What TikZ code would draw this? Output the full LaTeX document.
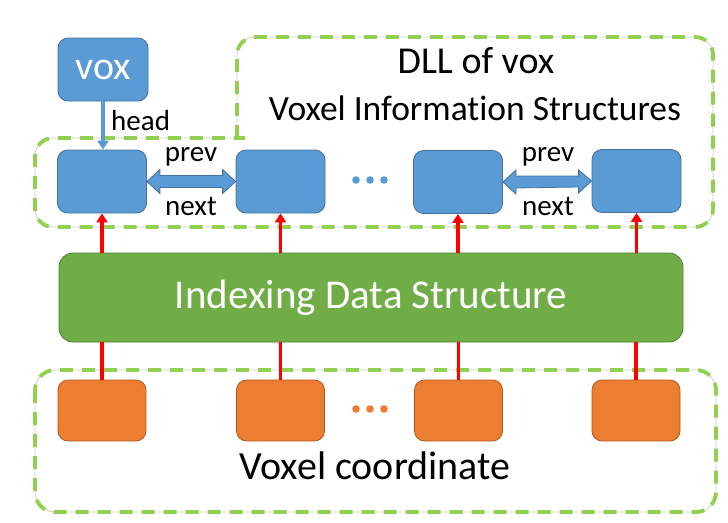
\documentclass[tikz,border=0pt]{standalone}
\usepackage{fontspec}
\setmainfont{Carlito}[Ligatures=NoCommon]
\usetikzlibrary{arrows.meta}
\definecolor{bfill}{HTML}{5B9BD5}
\definecolor{bline}{HTML}{41719C}
\definecolor{ofill}{HTML}{ED7D31}
\definecolor{oline}{HTML}{AE5A21}
\definecolor{gfill}{HTML}{70AD47}
\definecolor{gline}{HTML}{507E32}
\definecolor{fgreen}{HTML}{92D050}
\tikzset{
  blueb/.style={draw=bline, fill=bfill, line width=0.8pt, rounded corners=10, minimum width=89, minimum height=63, inner sep=0},
  orangeb/.style={draw=oline, fill=ofill, line width=0.8pt, rounded corners=10, minimum width=88, minimum height=61, inner sep=0},
  greenb/.style={draw=gline, fill=gfill, line width=0.8pt, rounded corners=14, minimum width=624, minimum height=89, inner sep=0, text=white, font=\fontsize{41}{48}\selectfont},
  frameg/.style={draw=gray!40, line width=0.8pt},
  framed/.style={draw=fgreen, line width=3.8pt, dash pattern=on 13pt off 9pt},
  redl/.style={draw=red, line width=3.6pt},
  redarr/.style={redl, -{Triangle[width=11pt,length=9pt]}},
  bluearr/.style={draw=bfill, line width=3.6pt, -{Triangle[width=11pt,length=9pt]}},
  lab/.style={font=\fontsize{29}{34}\selectfont, inner sep=0},
  dbl/.style={draw=bline, fill=bfill, line width=0.8pt},
}
\begin{document}
\begin{tikzpicture}[x=1pt,y=-1pt]
\useasboundingbox (0,0) rectangle (728,522);
% frames
\foreach \st in {frameg,framed}{
  \draw[\st, rounded corners=18] (237,138) -- (237,37) -- (713,37) -- (713,227) -- (35,227) -- (35,138) -- (245,138);
  \draw[\st, rounded corners=20] (35,370) rectangle (716,512);
}
\node (t1) at (476,61) {\fontsize{38}{44}\selectfont DLL of vox};
\node (t2) at (475,108) {\fontsize{35.5}{42}\selectfont Voxel Information Structures};
\node (t3) at (375,466) {\fontsize{40}{46}\selectfont Voxel coordinate};
% nodes
\node[blueb, minimum width=90, text=white, font=\fontsize{40}{46}\selectfont] (vox) at (103,69.5) {vox};
\node[blueb] (n1) at (102,181.5) {};
\node[blueb] (n2) at (280.5,181.5) {};
\node[blueb] (n3) at (458,182) {};
\node[blueb] (n4) at (636.5,181) {};
\node[greenb] (g) at (371,297.5) {Indexing Data Structure};
\node[orangeb] (o1) at (102,410.5) {};
\node[orangeb] (o2) at (280.5,410.5) {};
\node[orangeb] (o3) at (458.5,410.5) {};
\node[orangeb] (o4) at (636,410.5) {};
% vox -> head
\draw[bluearr] (vox.south) -- (vox.south |- n1.north);
\node[lab, anchor=west] (head) at (111,121) {head};
% double arrows
\draw[dbl] (n1.east) -- ++(13,-12) -- ++(0,6) -- ([xshift=-13]n2.west |- 0,175.5) -- ++(0,-6) -- (n2.west) -- ++(-13,12) -- ++(0,-6) -- ([xshift=13]n1.east |- 0,187.5) -- ++(0,6) -- cycle;
\draw[dbl] (n3.east) -- ++(13,-12) -- ++(0,6) -- ([xshift=-13]n4.west |- 0,176) -- ++(0,-6) -- (n4.west) -- ++(-13,12) -- ++(0,-6) -- ([xshift=13]n3.east |- 0,188) -- ++(0,6) -- cycle;
\node[lab] (p1) at (191,157) {prev};
\node[lab] (x1) at (191,206) {next};
\node[lab] (p2) at (548,157) {prev};
\node[lab] (x2) at (548,206) {next};
% dots
\foreach \x in {356,370,384}{
  \fill[bfill] (\x,180) circle (3.8);
  \fill[ofill] (\x,409) circle (3.8);
}
% red connectors
\foreach \n in {n1,n2,n3,n4}{
  \draw[redarr] (\n.south |- g.north) -- (\n.south);
}
\foreach \o in {o1,o2,o3,o4}{
  \draw[redl] (\o.north) -- (\o.north |- g.south);
}
\end{tikzpicture}
\end{document}
